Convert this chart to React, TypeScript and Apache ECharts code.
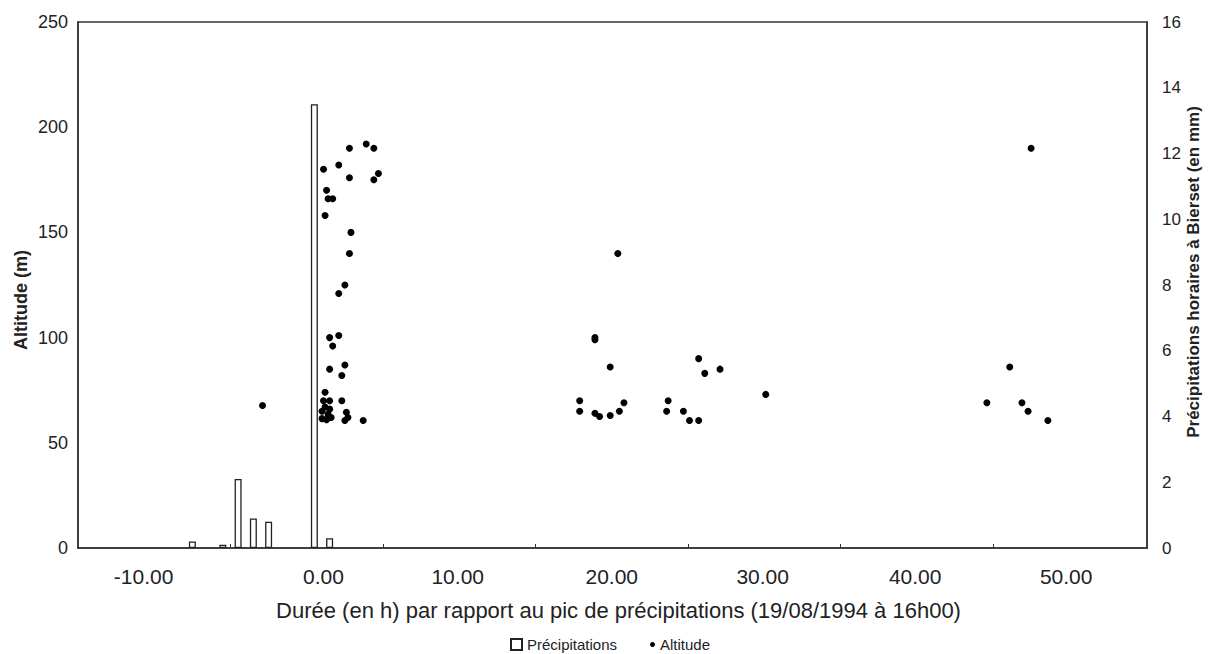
import React, { useEffect, useRef } from "react";
import * as echarts from "echarts";

// Hourly precipitation at Bierset (mm), hours relative to the peak
const precipHours = [-8, -6, -5, -4, -3, 0, 1];
const precipValues = [0.2, 0.1, 2.1, 0.9, 0.8, 13.5, 0.3];

// Altitude observations: hour relative to peak, altitude (m)
const altHours = [
  2.3, 3.4, 3.9, 0.6, 1.6, 2.3, 4.2, 3.9, 0.8, 0.9, 1.2, 0.7, 2.4, 2.3, 2.0, 1.6,
  1.0, 1.6, 1.2, 1.0, 2.0, 1.8, 0.7, 0.6, 1.0, 1.8,
  0.5, 0.7, 0.9, 1.0, 1.1, 0.5, 0.8, 2.1, 2.2, 2.0, 3.2, -3.4,
  19.9, 18.4, 18.4, 19.4, 17.4, 17.4, 18.4, 18.7, 19.4, 20.0, 20.3,
  23.2, 23.1, 24.2, 24.6, 25.2, 25.2, 25.6, 26.6, 29.6,
  47.0, 45.6, 44.1, 46.4, 46.8, 48.1,
];
const altValues = [
  190, 192, 190, 180, 182, 176, 178, 175, 170, 166, 166, 158, 150, 140, 125, 121,
  100, 101, 96, 85, 87, 82, 74, 70, 70, 70,
  65, 67, 63.5, 66, 62, 61.5, 61, 64.5, 62, 60.6, 60.6, 67.7,
  140, 100, 99, 86, 70, 65, 64, 62.5, 63, 65, 69,
  70, 65, 65, 60.6, 60.6, 90, 83, 85, 73,
  190, 86, 69, 69, 65, 60.6,
];

// x-axis label anchors (hours) and tick marks as drawn in the reference
const xLabelPositions = [-11.2, 0.6, 9.4, 19.5, 29.4, 39.4, 49.3];
const xTickPositions = [-5.5, 4.5, 14.5, 24.5, 34.5, 44.5];

const FONT = "'Liberation Sans', Arial, sans-serif";
const TXT = "#222";

export default function App() {
  const ref = useRef<HTMLDivElement>(null);
  useEffect(() => {
    if (!ref.current) return;
    const chart = echarts.init(ref.current, null, { renderer: "svg" });
    const barData = precipHours.map((h, i) => [h, precipValues[i]]);
    const scatterData = altHours.map((h, i) => [h, altValues[i]]);
    chart.setOption({
      animation: false,
      textStyle: { fontFamily: FONT },
      grid: {
        left: 78,
        right: 61,
        top: 22,
        bottom: 106,
        show: true,
        borderColor: "#333",
        borderWidth: 1.5,
        backgroundColor: "#fff",
        containLabel: false,
        outerBoundsMode: "none",
      },
      legend: [
        {
          data: [{ name: "Précipitations", icon: "rect" }],
          left: 510,
          top: 637,
          itemWidth: 11,
          itemHeight: 11,
          textStyle: { fontSize: 15, color: TXT, fontFamily: FONT },
          padding: 0,
        },
        {
          data: [{ name: "Altitude", icon: "circle" }],
          left: 650,
          top: 637,
          itemWidth: 5,
          itemHeight: 5,
          textStyle: { fontSize: 15, color: TXT, fontFamily: FONT },
          padding: 0,
        },
      ],
      xAxis: {
        type: "value",
        min: -15.5,
        max: 54.6,
        name: "Durée (en h) par rapport au pic de précipitations (19/08/1994 à 16h00)",
        nameLocation: "middle",
        nameGap: 51,
        nameMoveOverlap: false,
        nameTextStyle: { fontSize: 22, color: TXT, fontFamily: FONT, padding: [0, 0, 0, 12] },
        axisLine: { show: true, onZero: false, lineStyle: { color: "#333", width: 1.5 } },
        axisTick: {
          show: true,
          inside: true,
          length: 4,
          customValues: xTickPositions,
          lineStyle: { color: "#333" },
        },
        axisLabel: {
          customValues: xLabelPositions,
          formatter: (v: number) => (Math.round(v / 10) * 10).toFixed(2),
          fontSize: 21,
          color: TXT,
          margin: 18,
          fontFamily: FONT,
        },
        splitLine: { show: false },
      },
      yAxis: [
        {
          type: "value",
          min: 0,
          max: 250,
          interval: 50,
          name: "Altitude (m)",
          nameLocation: "middle",
          nameGap: 48,
          nameMoveOverlap: false,
          nameTextStyle: {
            fontSize: 18,
            fontWeight: "bold",
            color: TXT,
            fontFamily: FONT,
            padding: [0, 30, 0, 0],
          },
          axisLine: { show: true, onZero: false, lineStyle: { color: "#333", width: 1.5 } },
          axisTick: { show: false },
          axisLabel: { fontSize: 18, color: TXT, margin: 10, fontFamily: FONT },
          splitLine: { show: false },
        },
        {
          type: "value",
          min: 0,
          max: 16,
          interval: 2,
          position: "right",
          name: "Précipitations horaires à Bierset (en mm)",
          nameLocation: "middle",
          nameGap: 38,
          nameMoveOverlap: false,
          nameTextStyle: {
            fontSize: 17,
            fontWeight: "bold",
            color: TXT,
            fontFamily: FONT,
            padding: [0, 0, 0, 26],
          },
          axisLine: { show: true, onZero: false, lineStyle: { color: "#333", width: 1.5 } },
          axisTick: { show: false },
          axisLabel: { fontSize: 17, color: TXT, margin: 15, fontFamily: FONT },
          splitLine: { show: false },
        },
      ],
      series: [
        {
          name: "Précipitations",
          type: "bar",
          yAxisIndex: 1,
          data: barData,
          barWidth: 7,
          itemStyle: { color: "#fff", borderColor: "#222", borderWidth: 1.3 },
        },
        {
          name: "Altitude",
          type: "scatter",
          yAxisIndex: 0,
          data: scatterData,
          symbol: "circle",
          symbolSize: 7,
          itemStyle: { color: "#000", opacity: 1 },
        },
      ],
    });
    return () => chart.dispose();
  }, []);
  return (
    <div
      ref={ref}
      style={{ position: "absolute", left: 0, top: 0, width: 1208, height: 654, background: "#fff" }}
    />
  );
}
